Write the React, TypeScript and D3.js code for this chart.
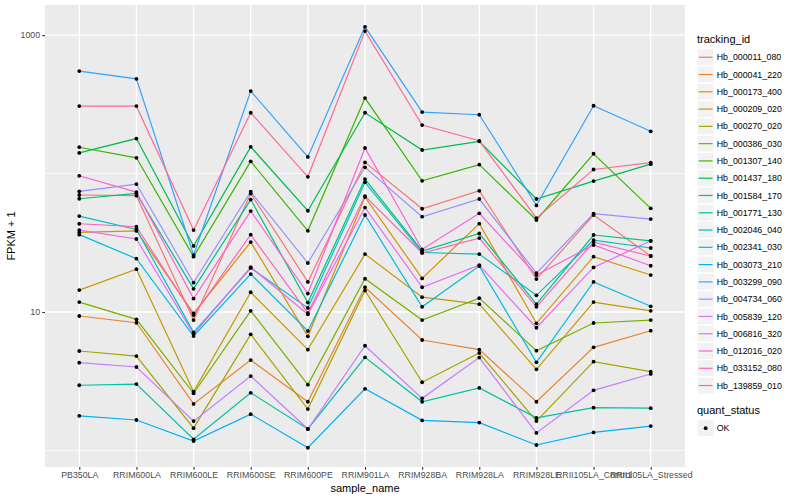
import * as d3 from 'd3'
import { useEffect, useRef } from 'react'

const samples = ['PB350LA', 'RRIM600LA', 'RRIM600LE', 'RRIM600SE', 'RRIM600PE', 'RRIM901LA',
    'RRIM928BA', 'RRIM928LA', 'RRIM928LE', 'RRII105LA_Control', 'RRII105LA_Stressed']

const trackingIds = ['Hb_000011_080', 'Hb_000041_220', 'Hb_000173_400', 'Hb_000209_020', 'Hb_000270_020',
    'Hb_000386_030', 'Hb_001307_140', 'Hb_001437_180', 'Hb_001584_170', 'Hb_001771_130',
    'Hb_002046_040', 'Hb_002341_030', 'Hb_003073_210', 'Hb_003299_090', 'Hb_004734_060',
    'Hb_005839_120', 'Hb_006816_320', 'Hb_012016_020', 'Hb_033152_080', 'Hb_139859_010']

// FPKM + 1, one value per sample
const hb_000011_080 = [70.0, 69.2, 8.75, 71.7, 16.5, 120.5, 55.7, 75.1, 17.3, 50.2, 25.4]
const hb_000041_220 = [9.36, 8.37, 2.17, 4.50, 2.25, 15.1, 6.28, 5.36, 2.25, 5.56, 7.33]
const hb_000173_400 = [37.6, 38.5, 9.78, 32.0, 6.68, 67.6, 17.5, 43.5, 8.29, 25.1, 18.5]
const hb_000209_020 = [14.4, 20.4, 2.66, 13.9, 5.35, 26.2, 12.8, 11.4, 3.86, 11.8, 10.2]
const hb_000270_020 = [5.23, 4.81, 1.45, 6.90, 1.99, 14.3, 3.11, 5.06, 1.63, 4.38, 3.71]
const hb_000386_030 = [11.8, 8.86, 2.59, 10.2, 2.99, 17.4, 8.75, 12.6, 5.26, 8.33, 8.75]
const hb_001307_140 = [155, 130, 25.1, 122.5, 38.6, 351, 88.7, 116, 46.2, 139, 56.1]
const hb_001437_180 = [141, 179, 30.0, 156, 53.9, 275, 148, 171, 65.5, 88.3, 117]
const hb_001584_170 = [65.8, 71.9, 14.7, 64.9, 11.7, 91.3, 27.6, 36.9, 11.4, 36.0, 32.7]
const hb_001771_130 = [2.96, 3.02, 1.205, 2.61, 1.43, 4.71, 2.25, 2.83, 1.72, 2.04, 2.02]
const hb_002046_040 = [49.3, 39.5, 7.13, 20.8, 10.7, 86.4, 26.9, 26.2, 13.2, 33.1, 29.0]
const hb_002341_030 = [36.2, 24.3, 6.71, 18.8, 7.29, 50.2, 10.9, 21.5, 4.33, 16.5, 11.0]
const hb_003073_210 = [1.78, 1.66, 1.17, 1.83, 1.047, 2.79, 1.65, 1.59, 1.096, 1.35, 1.50]
const hb_003299_090 = [550, 483, 25.8, 394, 132, 1148, 278, 266, 58.9, 309, 202]
const hb_004734_060 = [74.4, 84.0, 16.3, 73.9, 22.6, 111, 48.8, 65.5, 19.1, 51.3, 46.9]
const hb_005839_120 = [4.31, 4.01, 1.63, 3.45, 1.43, 5.71, 2.38, 4.69, 1.34, 2.72, 3.57]
const hb_006816_320 = [39.1, 33.7, 6.94, 21.1, 9.63, 56.8, 15.1, 21.8, 7.70, 21.0, 32.7]
const hb_012016_020 = [96.4, 73.5, 12.5, 53.6, 13.6, 153, 28.3, 51.6, 18.5, 30.5, 21.6]
const hb_033152_080 = [43.4, 41.3, 9.51, 36.2, 9.83, 68.8, 26.7, 34.2, 10.9, 32.0, 25.4]
const hb_139859_010 = [307, 307, 39.1, 275, 94.8, 1069, 224, 172.5, 47.7, 107, 120]

const seriesValues = [hb_000011_080, hb_000041_220, hb_000173_400, hb_000209_020, hb_000270_020,
    hb_000386_030, hb_001307_140, hb_001437_180, hb_001584_170, hb_001771_130,
    hb_002046_040, hb_002341_030, hb_003073_210, hb_003299_090, hb_004734_060,
    hb_005839_120, hb_006816_320, hb_012016_020, hb_033152_080, hb_139859_010]

const quantStatus = ['OK']
const majorBreaks = [10, 1000]
const minorBreaks = [1, 100]

// ggplot2 default hue palette for 20 levels
const palette = ['#F8766D', '#EA8331', '#D89000', '#C09B00', '#A3A500', '#7CAE00', '#39B600', '#00BB4E',
    '#00BF7D', '#00C1A3', '#00BFC4', '#00BAE0', '#00B0F6', '#35A2FF', '#9590FF', '#C77CFF',
    '#E76BF3', '#FA62DB', '#FF62BC', '#FF6C91']

const W = 800
const H = 500
const panel = { left: 45, right: 685, top: 5, bottom: 467 }
const font = "'Liberation Sans', Arial, Helvetica, sans-serif"

const drawChart = (el: SVGSVGElement) => {
    const svg = d3.select(el)
    svg.selectAll('*').remove()

    const x = d3.scalePoint<string>().domain(samples).range([panel.left, panel.right]).padding(0.6)
    const y = d3.scaleLog().domain([0.76, 1650]).range([panel.bottom, panel.top])
    const colour = d3.scaleOrdinal<string, string>().domain(trackingIds).range(palette)

    svg.append('rect').attr('width', W).attr('height', H).attr('fill', 'white')
    svg.append('rect')
        .attr('x', panel.left).attr('y', panel.top)
        .attr('width', panel.right - panel.left).attr('height', panel.bottom - panel.top)
        .attr('fill', '#EBEBEB')

    const grid = svg.append('g').attr('stroke', 'white')
    grid.selectAll('.minor').data(minorBreaks).join('line')
        .attr('x1', panel.left).attr('x2', panel.right)
        .attr('y1', d => y(d)).attr('y2', d => y(d))
        .attr('stroke-width', 0.7)
    grid.selectAll('.majorY').data(majorBreaks).join('line')
        .attr('x1', panel.left).attr('x2', panel.right)
        .attr('y1', d => y(d)).attr('y2', d => y(d))
        .attr('stroke-width', 1.4)
    grid.selectAll('.majorX').data(samples).join('line')
        .attr('x1', d => x(d)!).attr('x2', d => x(d)!)
        .attr('y1', panel.top).attr('y2', panel.bottom)
        .attr('stroke-width', 1.4)

    const line = d3.line<number>()
        .x((_, i) => x(samples[i])!)
        .y(d => y(d))

    seriesValues.forEach((vals, k) => {
        svg.append('path')
            .datum(vals)
            .attr('d', line)
            .attr('fill', 'none')
            .attr('stroke', colour(trackingIds[k]))
            .attr('stroke-width', 1.2)
    })

    const pts = seriesValues.flatMap(vals => vals.map((v, i) => ({ s: samples[i], v })))
    svg.append('g').selectAll('circle').data(pts).join('circle')
        .attr('cx', d => x(d.s)!)
        .attr('cy', d => y(d.v))
        .attr('r', 1.9)
        .attr('fill', 'black')

    // axes
    const yAxis = svg.append('g')
        .attr('transform', `translate(${panel.left},0)`)
        .call(d3.axisLeft(y).tickValues(majorBreaks).tickFormat(d3.format('d')).tickSize(2.75).tickPadding(2.2))
    const xAxis = svg.append('g')
        .attr('transform', `translate(0,${panel.bottom})`)
        .call(d3.axisBottom(x).tickSize(2.75).tickPadding(2.2))
    for (const ax of [yAxis, xAxis]) {
        ax.select('.domain').remove()
        ax.selectAll('line').attr('stroke', '#333333').attr('stroke-width', 1.1)
        ax.selectAll('text').attr('fill', '#4D4D4D').attr('font-size', 8.8).attr('font-family', font)
    }

    svg.append('text')
        .attr('x', (panel.left + panel.right) / 2).attr('y', 492)
        .attr('text-anchor', 'middle').attr('font-size', 11).attr('font-family', font)
        .text('sample_name')
    svg.append('text')
        .attr('transform', `translate(14.5,${(panel.top + panel.bottom) / 2}) rotate(-90)`)
        .attr('text-anchor', 'middle').attr('font-size', 11).attr('font-family', font)
        .text('FPKM + 1')

    // legends
    const keySize = 17.28
    const lgX = 697
    const lg = svg.append('g').attr('font-family', font)
    lg.append('text').attr('x', lgX).attr('y', 42.7).attr('font-size', 11).text('tracking_id')
    const keys = lg.selectAll('.key').data(trackingIds).join('g')
        .attr('transform', (_, i) => `translate(${lgX},${48.6 + i * keySize})`)
    keys.append('rect').attr('width', keySize).attr('height', keySize)
        .attr('fill', '#F2F2F2').attr('stroke', 'white').attr('stroke-width', 1.4)
    keys.append('line')
        .attr('x1', 1.7).attr('x2', keySize - 1.7)
        .attr('y1', keySize / 2).attr('y2', keySize / 2)
        .attr('stroke', d => colour(d)).attr('stroke-width', 1.2)
    keys.append('text')
        .attr('x', keySize + 2.5).attr('y', keySize / 2 + 3.1)
        .attr('font-size', 8.8).text(d => d)

    const q0 = 419.5
    lg.append('text').attr('x', lgX).attr('y', q0 - 5.9).attr('font-size', 11).text('quant_status')
    const qKeys = lg.selectAll('.qkey').data(quantStatus).join('g')
        .attr('transform', (_, i) => `translate(${lgX},${q0 + i * keySize})`)
    qKeys.append('rect').attr('width', keySize).attr('height', keySize)
        .attr('fill', '#F2F2F2').attr('stroke', 'white').attr('stroke-width', 1.4)
    qKeys.append('circle').attr('cx', keySize / 2).attr('cy', keySize / 2).attr('r', 1.9).attr('fill', 'black')
    qKeys.append('text')
        .attr('x', keySize + 2.5).attr('y', keySize / 2 + 3.1)
        .attr('font-size', 8.8).text(d => d)
}

const App = () => {
    const ref = useRef<SVGSVGElement>(null)
    useEffect(() => {
        if (ref.current) drawChart(ref.current)
    }, [])
    return (
        <svg ref={ref} width={W} height={H} style={{ position: 'absolute', left: 0, top: 0 }} />
    )
}

export default App
